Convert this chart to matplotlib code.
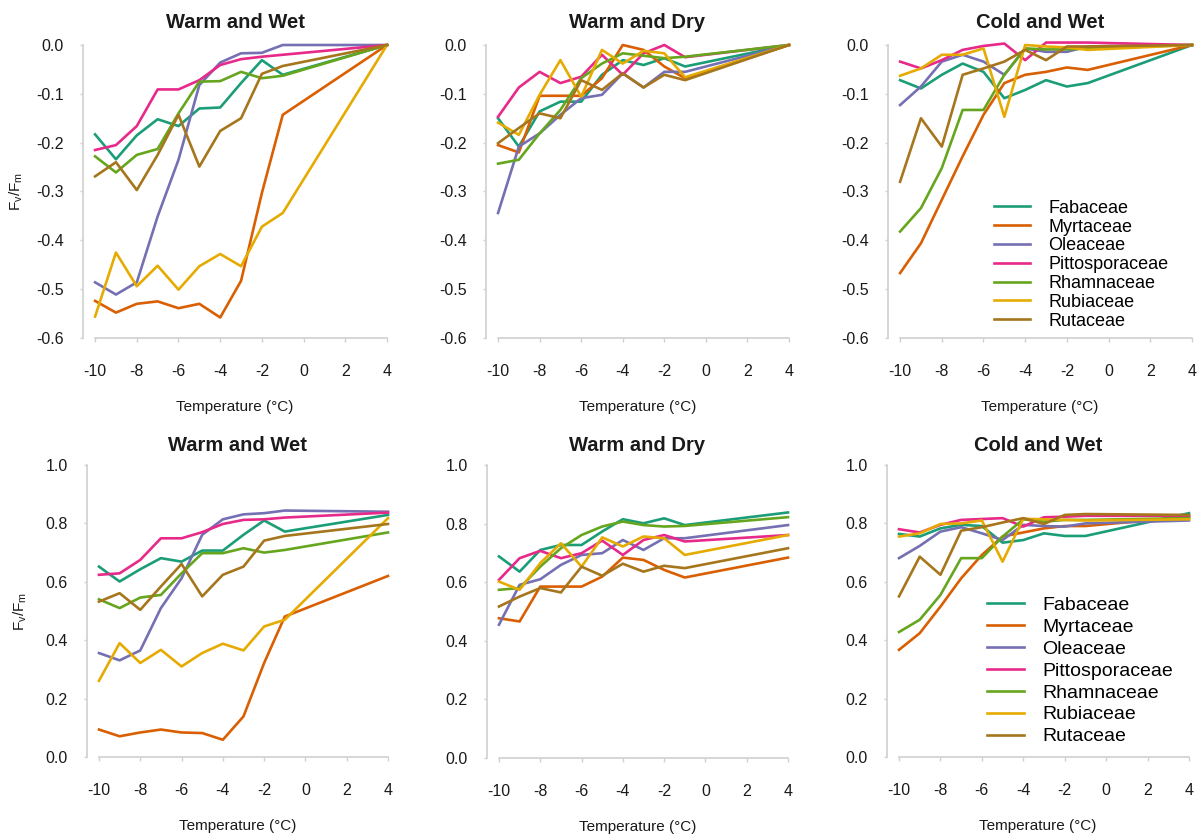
import matplotlib
matplotlib.use("Agg")
import matplotlib.pyplot as plt
import numpy as np

plt.rcParams['font.family'] = ['Liberation Sans', 'DejaVu Sans']
plt.rcParams['axes.unicode_minus'] = False

temps = [-10, -9, -8, -7, -6, -5, -4, -3, -2, -1, 4]
families = ["Fabaceae", "Myrtaceae", "Oleaceae", "Pittosporaceae",
            "Rhamnaceae", "Rubiaceae", "Rutaceae"]
colors = ["#1b9e77", "#d95f02", "#7570b3", "#e7298a", "#66a61e", "#e6ab02", "#a6761d"]
titles = ["Warm and Wet", "Warm and Dry", "Cold and Wet"]

# Top row: change in Fv/Fm
warm_wet_delta = {
    "Fabaceae":       [-0.183, -0.234, -0.185, -0.152, -0.166, -0.130, -0.128, -0.078, -0.031, -0.061, 0.0],
    "Myrtaceae":      [-0.524, -0.548, -0.530, -0.525, -0.539, -0.530, -0.558, -0.483, -0.303, -0.143, 0.0],
    "Oleaceae":       [-0.486, -0.511, -0.486, -0.351, -0.235, -0.082, -0.036, -0.017, -0.016, 0.0, 0.0],
    "Pittosporaceae": [-0.215, -0.205, -0.166, -0.091, -0.091, -0.072, -0.041, -0.029, -0.024, -0.020, 0.0],
    "Rhamnaceae":     [-0.228, -0.261, -0.225, -0.213, -0.140, -0.075, -0.074, -0.055, -0.068, -0.063, 0.0],
    "Rubiaceae":      [-0.556, -0.425, -0.494, -0.452, -0.501, -0.453, -0.428, -0.453, -0.372, -0.344, 0.0],
    "Rutaceae":       [-0.269, -0.240, -0.297, -0.225, -0.143, -0.249, -0.176, -0.150, -0.059, -0.043, 0.0],
}
warm_dry_delta = {
    "Fabaceae":       [-0.150, -0.208, -0.136, -0.116, -0.116, -0.061, -0.031, -0.041, -0.027, -0.044, 0.0],
    "Myrtaceae":      [-0.205, -0.220, -0.104, -0.104, -0.104, -0.068, 0.0, -0.010, -0.044, -0.068, 0.0],
    "Oleaceae":       [-0.344, -0.208, -0.181, -0.143, -0.109, -0.102, -0.058, -0.087, -0.055, -0.055, 0.0],
    "Pittosporaceae": [-0.147, -0.087, -0.055, -0.078, -0.065, -0.020, -0.061, -0.017, 0.0, -0.025, 0.0],
    "Rhamnaceae":     [-0.243, -0.235, -0.181, -0.133, -0.068, -0.038, -0.017, -0.022, -0.027, -0.024, 0.0],
    "Rubiaceae":      [-0.159, -0.184, -0.102, -0.031, -0.106, -0.010, -0.038, -0.012, -0.017, -0.066, 0.0],
    "Rutaceae":       [-0.201, -0.170, -0.140, -0.150, -0.072, -0.092, -0.058, -0.087, -0.061, -0.072, 0.0],
}
cold_wet_delta = {
    "Fabaceae":       [-0.072, -0.089, -0.061, -0.038, -0.055, -0.109, -0.092, -0.072, -0.085, -0.078, 0.0],
    "Myrtaceae":      [-0.467, -0.406, -0.317, -0.228, -0.143, -0.078, -0.061, -0.055, -0.046, -0.051, 0.0],
    "Oleaceae":       [-0.123, -0.085, -0.034, -0.020, -0.034, -0.061, -0.007, -0.014, -0.014, -0.003, 0.0],
    "Pittosporaceae": [-0.034, -0.048, -0.031, -0.010, -0.002, 0.003, -0.031, 0.005, 0.005, 0.005, 0.0],
    "Rhamnaceae":     [-0.382, -0.334, -0.252, -0.133, -0.133, -0.061, -0.007, -0.009, -0.009, -0.007, 0.0],
    "Rubiaceae":      [-0.063, -0.048, -0.020, -0.020, -0.007, -0.147, 0.0, -0.003, -0.005, -0.010, 0.0],
    "Rutaceae":       [-0.280, -0.150, -0.208, -0.061, -0.048, -0.034, -0.010, -0.031, -0.003, -0.003, 0.0],
}

# Bottom row: Fv/Fm
warm_wet_fvfm = {
    "Fabaceae":       [0.652, 0.601, 0.643, 0.681, 0.669, 0.707, 0.707, 0.761, 0.810, 0.772, 0.829],
    "Myrtaceae":      [0.094, 0.071, 0.084, 0.094, 0.084, 0.082, 0.059, 0.139, 0.322, 0.481, 0.620],
    "Oleaceae":       [0.356, 0.331, 0.365, 0.510, 0.612, 0.761, 0.814, 0.831, 0.835, 0.844, 0.840],
    "Pittosporaceae": [0.624, 0.629, 0.675, 0.749, 0.749, 0.770, 0.798, 0.812, 0.814, 0.820, 0.837],
    "Rhamnaceae":     [0.540, 0.510, 0.546, 0.555, 0.629, 0.698, 0.698, 0.715, 0.700, 0.709, 0.769],
    "Rubiaceae":      [0.261, 0.390, 0.322, 0.367, 0.310, 0.356, 0.388, 0.365, 0.447, 0.470, 0.818],
    "Rutaceae":       [0.532, 0.561, 0.504, 0.584, 0.661, 0.550, 0.624, 0.652, 0.741, 0.757, 0.798],
}
warm_dry_fvfm = {
    "Fabaceae":       [0.688, 0.636, 0.710, 0.727, 0.727, 0.773, 0.815, 0.801, 0.818, 0.795, 0.838],
    "Myrtaceae":      [0.477, 0.466, 0.585, 0.585, 0.585, 0.619, 0.684, 0.676, 0.642, 0.616, 0.684],
    "Oleaceae":       [0.455, 0.591, 0.610, 0.659, 0.693, 0.699, 0.744, 0.710, 0.750, 0.750, 0.795],
    "Pittosporaceae": [0.608, 0.682, 0.707, 0.682, 0.699, 0.742, 0.693, 0.744, 0.761, 0.739, 0.761],
    "Rhamnaceae":     [0.574, 0.580, 0.653, 0.716, 0.761, 0.790, 0.807, 0.795, 0.790, 0.792, 0.822],
    "Rubiaceae":      [0.602, 0.574, 0.665, 0.733, 0.653, 0.753, 0.722, 0.756, 0.750, 0.693, 0.761],
    "Rutaceae":       [0.517, 0.551, 0.580, 0.565, 0.653, 0.622, 0.663, 0.636, 0.656, 0.648, 0.716],
}
cold_wet_fvfm = {
    "Fabaceae":       [0.764, 0.755, 0.783, 0.795, 0.791, 0.734, 0.743, 0.766, 0.757, 0.757, 0.835],
    "Myrtaceae":      [0.367, 0.424, 0.515, 0.612, 0.692, 0.755, 0.769, 0.783, 0.791, 0.791, 0.823],
    "Oleaceae":       [0.681, 0.723, 0.772, 0.787, 0.766, 0.743, 0.795, 0.791, 0.789, 0.800, 0.810],
    "Pittosporaceae": [0.780, 0.769, 0.795, 0.812, 0.815, 0.818, 0.789, 0.821, 0.823, 0.826, 0.826],
    "Rhamnaceae":     [0.428, 0.470, 0.555, 0.681, 0.681, 0.755, 0.814, 0.806, 0.812, 0.812, 0.818],
    "Rubiaceae":      [0.755, 0.766, 0.798, 0.800, 0.810, 0.669, 0.816, 0.814, 0.812, 0.810, 0.814],
    "Rutaceae":       [0.550, 0.686, 0.624, 0.775, 0.787, 0.803, 0.818, 0.798, 0.829, 0.832, 0.829],
}

x_ticks = [-10, -8, -6, -4, -2, 0, 2, 4]
x_ticklabels = ["-10", "-8", "-6", "-4", "-2", "0", "2", "4"]
top_yticks = [0.0, -0.1, -0.2, -0.3, -0.4, -0.5, -0.6]
top_yticklabels = ["0.0", "-0.1", "-0.2", "-0.3", "-0.4", "-0.5", "-0.6"]
bot_yticks = [0.0, 0.2, 0.4, 0.6, 0.8, 1.0]
bot_yticklabels = ["0.0", "0.2", "0.4", "0.6", "0.8", "1.0"]

W, H = 1197, 834
fig = plt.figure(figsize=(W / 100, H / 100), dpi=100)

# axes boxes in pixels: (left spine x, right x, top y, bottom y)
boxes_top = [(83, 387, 45, 338), (486, 789, 45, 338), (888, 1192, 45, 338)]
boxes_bot = [(87, 388, 465, 757), (487, 788, 465, 758), (887, 1189, 465, 757)]

axis_col = "#d0d0d0"
text_col = "#1a1a1a"


def make_ax(box):
    l, r, t, b = box
    return fig.add_axes([l / W, 1 - b / H, (r - l) / W, (b - t) / H])


def style(ax, yticks, yticklabels, ylim, title, ylabel, title_pad):
    ax.set_xlim(-10.58, 4)
    ax.set_ylim(*ylim)
    for s in ("top", "right"):
        ax.spines[s].set_visible(False)
    for s in ("left", "bottom"):
        ax.spines[s].set_color(axis_col)
        ax.spines[s].set_linewidth(1.2)
    ax.spines["bottom"].set_bounds(-10, 4)
    ax.set_xticks(x_ticks)
    ax.set_xticklabels(x_ticklabels)
    ax.set_yticks(yticks)
    ax.set_yticklabels(yticklabels)
    ax.tick_params(axis="x", direction="out", length=3, width=1, color=axis_col,
                   labelsize=11.5, pad=16, labelcolor=text_col)
    ax.tick_params(axis="y", direction="out", length=2, width=1, color=axis_col,
                   labelsize=11.5, pad=12, labelcolor=text_col)
    ax.set_xlabel("Temperature (°C)", fontsize=11, labelpad=15, color=text_col)
    ax.set_title(title, fontsize=14.5, fontweight="bold", pad=title_pad, color=text_col)
    if ylabel:
        ax.set_ylabel(r"F$_\mathregular{v}$/F$_\mathregular{m}$", fontsize=11,
                      color=text_col)
        ax.yaxis.set_label_coords(-58 / (ax.get_position().width * W), 0.5)
    ax.patch.set_alpha(0)


top_data = [warm_wet_delta, warm_dry_delta, cold_wet_delta]
bot_data = [warm_wet_fvfm, warm_dry_fvfm, cold_wet_fvfm]

for i in range(3):
    ax = make_ax(boxes_top[i])
    for fam, c in zip(families, colors):
        ax.plot(temps, top_data[i][fam], color=c, lw=1.9, label=fam,
                solid_joinstyle="round", clip_on=False)
    style(ax, top_yticks, top_yticklabels, (-0.6, 0.0), titles[i], i == 0, 12.5)
    if i == 2:
        ax.legend(loc="upper left", bbox_to_anchor=(0.349, 0.472), frameon=False,
                  fontsize=13, borderpad=0, borderaxespad=0, handlelength=2.0,
                  handletextpad=1.0, labelspacing=0.1)

for i in range(3):
    ax = make_ax(boxes_bot[i])
    for fam, c in zip(families, colors):
        ax.plot(temps, bot_data[i][fam], color=c, lw=1.9, label=fam,
                solid_joinstyle="round", clip_on=False)
    style(ax, bot_yticks, bot_yticklabels, (0.0, 1.0), titles[i], i == 0, 10)
    if i == 2:
        ax.legend(loc="upper left", bbox_to_anchor=(0.331, 0.55), frameon=False,
                  fontsize=14, borderpad=0, borderaxespad=0, handlelength=1.9,
                  handletextpad=0.95, labelspacing=0.22)

fig.savefig("out.png", dpi=100)
